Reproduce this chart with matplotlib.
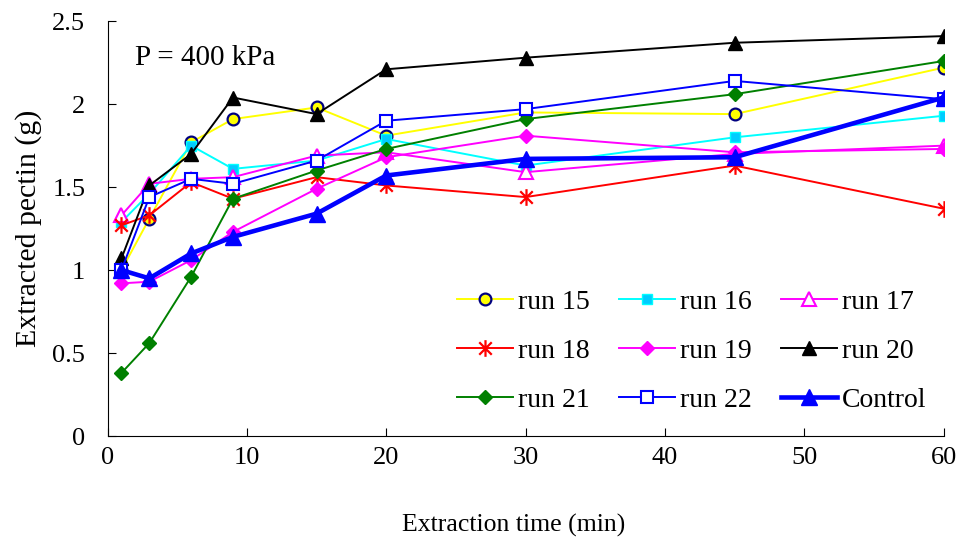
import numpy as np
import matplotlib
matplotlib.use("Agg")
import matplotlib.pyplot as plt
from matplotlib.path import Path

# extraction time (min)
TIME = [1, 3, 6, 9, 15, 20, 30, 45, 60]

# extracted pectin (g)
RUN_15 = [1.00, 1.31, 1.77, 1.91, 1.98, 1.81, 1.95, 1.94, 2.22]
RUN_16 = [1.29, 1.46, 1.75, 1.61, 1.66, 1.79, 1.63, 1.80, 1.93]
RUN_17 = [1.33, 1.52, 1.55, 1.56, 1.69, 1.71, 1.59, 1.70, 1.75]
RUN_18 = [1.27, 1.33, 1.53, 1.43, 1.56, 1.51, 1.44, 1.63, 1.37]
RUN_19 = [0.92, 0.93, 1.06, 1.23, 1.49, 1.68, 1.81, 1.71, 1.73]
RUN_20 = [1.07, 1.51, 1.70, 2.04, 1.94, 2.21, 2.28, 2.37, 2.41]
RUN_21 = [0.38, 0.56, 0.96, 1.43, 1.60, 1.73, 1.91, 2.06, 2.26]
RUN_22 = [1.00, 1.44, 1.55, 1.52, 1.66, 1.90, 1.97, 2.14, 2.03]
CONTROL = [1.00, 0.95, 1.10, 1.20, 1.34, 1.57, 1.67, 1.68, 2.04]

plt.rcParams["font.family"] = ["Liberation Serif", "DejaVu Serif"]

# Excel-style star: an X with a vertical bar
star = Path([(0, -1), (0, 1), (-0.75, -0.75), (0.75, 0.75), (-0.75, 0.75), (0.75, -0.75)],
            [Path.MOVETO, Path.LINETO, Path.MOVETO, Path.LINETO, Path.MOVETO, Path.LINETO])

fig = plt.figure(figsize=(9.6, 5.43), dpi=100)
ax = fig.add_axes([0.112, 0.197, 0.871, 0.764])

series = [
    ("run 15", RUN_15, dict(color="#FFFF00", marker="o", mfc="#FFFF00", mec="#000080", ms=8.5, mew=1.6)),
    ("run 16", RUN_16, dict(color="#00FFFF", marker="s", mfc="#00CCFF", mec="#00FFFF", ms=7.5)),
    ("run 17", RUN_17, dict(color="#FF00FF", marker="^", mfc="white", mec="#FF00FF", ms=10, mew=1.5)),
    ("run 18", RUN_18, dict(color="#FF0000", marker=star, mec="#FF0000", ms=12, mew=1.6)),
    ("run 19", RUN_19, dict(color="#FF00FF", marker="D", mfc="#FF00FF", mec="#FF00FF", ms=7.5)),
    ("run 20", RUN_20, dict(color="black", marker="^", mfc="black", mec="black", ms=10.5)),
    ("run 21", RUN_21, dict(color="#008000", marker="D", mfc="#008000", mec="#008000", ms=7.5)),
    ("run 22", RUN_22, dict(color="#0000FF", marker="s", mfc="white", mec="#0000FF", ms=8.5, mew=1.5)),
]

handles = []
for label, vals, style in series:
    h, = ax.plot(TIME, vals, lw=1.4, label=label, **style)
    handles.append(h)

h_ctrl, = ax.plot(TIME, CONTROL, color="#0000FF", lw=3.3, marker="^",
                  mfc="#0000FF", mec="#0000FF", ms=11, label="Control")
handles.append(h_ctrl)

ax.set_xlim(0, 60)
ax.set_ylim(0, 2.5)
ax.set_xticks(range(0, 61, 10))
ax.set_yticks([0, 0.5, 1, 1.5, 2, 2.5])
ax.set_yticklabels(["0", "0.5", "1", "1.5", "2", "2.5"])
ax.tick_params(direction="in", length=6, labelsize=19)
ax.tick_params(axis="y", pad=16)
ax.tick_params(axis="x", pad=8)
for side in ["top", "right"]:
    ax.spines[side].set_visible(False)

ax.set_xlabel("Extraction time (min)", fontsize=18.5)
ax.set_ylabel("Extracted pectin (g)", fontsize=21.5)
ax.xaxis.set_label_coords(0.486, -0.187)
ax.yaxis.set_label_coords(-0.078, 0.5)

ax.text(2.0, 2.28, "P = 400 kPa", fontsize=21, va="center", ha="left")

# legend laid out row-wise: columns are filled first by matplotlib
order = [0, 3, 6, 1, 4, 7, 2, 5, 8]
leg = ax.legend([handles[i] for i in order], [handles[i].get_label() for i in order],
                ncol=3, frameon=False, fontsize=20, loc="lower right",
                bbox_to_anchor=(1.0096, -0.004), handlelength=2.0, columnspacing=1.05,
                labelspacing=0.85, handletextpad=0.2)

fig.savefig("out.png", dpi=100)
